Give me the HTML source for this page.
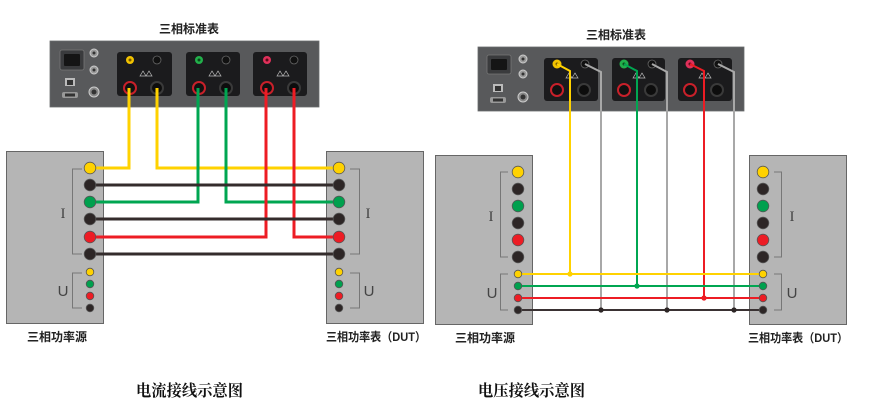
<!DOCTYPE html>
<html><head><meta charset="utf-8"><style>
html,body{margin:0;padding:0;background:#fff;}
svg{display:block;}
.t{font-family:"Liberation Sans","Noto Sans CJK SC",sans-serif;font-weight:bold;font-size:12px;fill:#222;}
.cap{font-family:"Liberation Serif","Noto Serif CJK SC",serif;font-weight:bold;font-size:16px;fill:#111;}
.lb{font-family:"Liberation Serif","Noto Serif CJK SC",serif;font-size:15px;fill:#444;}
.lu{font-family:"Liberation Sans",sans-serif;font-size:15px;fill:#444;}
</style></head><body>
<svg width="879" height="416" viewBox="0 0 879 416" xmlns="http://www.w3.org/2000/svg">
<rect width="879" height="416" fill="#fff"/>

<!-- ================= LEFT DIAGRAM ================= -->
<text class="t" x="189" y="33" text-anchor="middle">三相标准表</text>
<!-- device -->
<rect x="50" y="41" width="269" height="66" fill="#58595b" stroke="#6a6b6d" stroke-width="0.8"/>
<!-- power socket -->
<rect x="60" y="50" width="24" height="20" rx="2" fill="#3a3b3d" stroke="#777" stroke-width="0.8"/>
<rect x="64" y="54" width="16" height="12" rx="1" fill="#151515"/>
<!-- BNC -->
<circle cx="94" cy="53" r="4" fill="#9a9a9a" stroke="#ccc" stroke-width="1"/><circle cx="94" cy="53" r="1.5" fill="#333"/>
<circle cx="94" cy="70" r="4" fill="#9a9a9a" stroke="#ccc" stroke-width="1"/><circle cx="94" cy="70" r="1.5" fill="#333"/>
<circle cx="94" cy="92" r="5" fill="#888" stroke="#ccc" stroke-width="1"/><circle cx="94" cy="92" r="2.5" fill="#333"/>
<!-- ethernet + db9 -->
<rect x="65" y="78" width="10" height="8" fill="#bbb"/><rect x="67" y="80" width="6" height="5" fill="#333"/>
<rect x="62" y="92" width="16" height="6" rx="2" fill="#999"/><rect x="65" y="93.5" width="10" height="3" fill="#333"/>
<!-- modules -->
<rect x="117" y="52" width="55" height="44" rx="3" fill="#1b1b1d"/>
<rect x="186" y="52" width="54" height="44" rx="3" fill="#1b1b1d"/>
<rect x="253" y="52" width="54" height="44" rx="3" fill="#1b1b1d"/>
<!-- module terminals -->
<g>
<circle cx="130" cy="60" r="4" fill="#f2c300"/><circle cx="130" cy="60" r="1.5" fill="#7a5a00"/>
<circle cx="157" cy="60" r="4" fill="#111" stroke="#666" stroke-width="0.8"/>
<circle cx="130" cy="88" r="7" fill="#c8202a"/><circle cx="130" cy="88" r="5" fill="#111"/>
<circle cx="157" cy="88" r="7" fill="#3a3a3a"/><circle cx="157" cy="88" r="5" fill="#0d0d0d"/>
<path d="M140 76 l3 -5 l3 5 z M146 76 l3 -5 l3 5 z" fill="none" stroke="#bbb" stroke-width="0.7"/>

<circle cx="199" cy="60" r="4" fill="#22b04b"/><circle cx="199" cy="60" r="1.5" fill="#0a4a1a"/>
<circle cx="226" cy="60" r="4" fill="#111" stroke="#666" stroke-width="0.8"/>
<circle cx="199" cy="88" r="7" fill="#c8202a"/><circle cx="199" cy="88" r="5" fill="#111"/>
<circle cx="226" cy="88" r="7" fill="#3a3a3a"/><circle cx="226" cy="88" r="5" fill="#0d0d0d"/>
<path d="M209 76 l3 -5 l3 5 z M215 76 l3 -5 l3 5 z" fill="none" stroke="#bbb" stroke-width="0.7"/>

<circle cx="267" cy="60" r="4" fill="#e0305a"/><circle cx="267" cy="60" r="1.5" fill="#5a0a1a"/>
<circle cx="294" cy="60" r="4" fill="#111" stroke="#666" stroke-width="0.8"/>
<circle cx="267" cy="88" r="7" fill="#c8202a"/><circle cx="267" cy="88" r="5" fill="#111"/>
<circle cx="294" cy="88" r="7" fill="#3a3a3a"/><circle cx="294" cy="88" r="5" fill="#0d0d0d"/>
<path d="M277 76 l3 -5 l3 5 z M283 76 l3 -5 l3 5 z" fill="none" stroke="#bbb" stroke-width="0.7"/>
</g>

<!-- boxes -->
<rect x="6.5" y="151.5" width="97" height="172" fill="#b5b5b5" stroke="#666" stroke-width="1"/>
<rect x="326.5" y="151.5" width="97" height="172" fill="#b5b5b5" stroke="#666" stroke-width="1"/>
<!-- brackets -->
<path d="M82 169 H72.5 V254 H82 M82 273 H72.5 V308 H82" fill="none" stroke="#777" stroke-width="1"/>
<path d="M350 169 H359.5 V254 H350 M350 273 H359.5 V308 H350" fill="none" stroke="#777" stroke-width="1"/>
<text class="lb" x="63" y="218" text-anchor="middle">I</text>
<text class="lu" x="63" y="296" text-anchor="middle">U</text>
<text class="lb" x="368" y="218" text-anchor="middle">I</text>
<text class="lu" x="369" y="296" text-anchor="middle">U</text>

<!-- wires -->
<g fill="none" stroke-width="3" stroke-linejoin="miter">
<path d="M90 168 H129 V88" stroke="#ffd200"/>
<path d="M339 168 H157 V88" stroke="#ffd200"/>
<path d="M90 202 H198 V88" stroke="#00a651"/>
<path d="M339 202 H226 V88" stroke="#00a651"/>
<path d="M90 237 H266 V88" stroke="#ed1c24"/>
<path d="M339 237 H294 V88" stroke="#ed1c24"/>
<path d="M90 185 H339 M90 219 H339 M90 254 H339" stroke="#342c2c"/>
</g>
<!-- terminals -->
<g stroke="#555" stroke-width="0.8">
<circle cx="90" cy="168" r="5.8" fill="#ffd200"/><circle cx="90" cy="185" r="5.8" fill="#2d2626"/>
<circle cx="90" cy="202" r="5.8" fill="#00a04e"/><circle cx="90" cy="219" r="5.8" fill="#2d2626"/>
<circle cx="90" cy="237" r="5.8" fill="#ed1c24"/><circle cx="90" cy="254" r="5.8" fill="#2d2626"/>
<circle cx="90" cy="272" r="3.8" fill="#ffd200"/><circle cx="90" cy="284" r="3.8" fill="#00a04e"/>
<circle cx="90" cy="296" r="3.8" fill="#ed1c24"/><circle cx="90" cy="308" r="3.8" fill="#2d2626"/>
<circle cx="339" cy="168" r="5.8" fill="#ffd200"/><circle cx="339" cy="185" r="5.8" fill="#2d2626"/>
<circle cx="339" cy="202" r="5.8" fill="#00a04e"/><circle cx="339" cy="219" r="5.8" fill="#2d2626"/>
<circle cx="339" cy="237" r="5.8" fill="#ed1c24"/><circle cx="339" cy="254" r="5.8" fill="#2d2626"/>
<circle cx="339" cy="272" r="3.8" fill="#ffd200"/><circle cx="339" cy="284" r="3.8" fill="#00a04e"/>
<circle cx="339" cy="296" r="3.8" fill="#ed1c24"/><circle cx="339" cy="308" r="3.8" fill="#2d2626"/>
</g>
<text class="t" x="27" y="341">三相功率源</text>
<text class="t" x="326" y="341" textLength="100" lengthAdjust="spacingAndGlyphs">三相功率表（DUT）</text>
<text class="cap" x="136" y="396" textLength="107" lengthAdjust="spacingAndGlyphs">电流接线示意图</text>

<!-- ================= RIGHT DIAGRAM ================= -->
<text class="t" x="616" y="39" text-anchor="middle">三相标准表</text>
<rect x="478" y="47" width="266" height="64" fill="#58595b" stroke="#6a6b6d" stroke-width="0.8"/>
<rect x="487" y="55" width="24" height="19" rx="2" fill="#3a3b3d" stroke="#777" stroke-width="0.8"/>
<rect x="491" y="59" width="16" height="11" rx="1" fill="#151515"/>
<circle cx="523" cy="59" r="4" fill="#9a9a9a" stroke="#ccc" stroke-width="1"/><circle cx="523" cy="59" r="1.5" fill="#333"/>
<circle cx="523" cy="74" r="4" fill="#9a9a9a" stroke="#ccc" stroke-width="1"/><circle cx="523" cy="74" r="1.5" fill="#333"/>
<circle cx="523" cy="97" r="5" fill="#888" stroke="#ccc" stroke-width="1"/><circle cx="523" cy="97" r="2.5" fill="#333"/>
<rect x="493" y="84" width="10" height="8" fill="#bbb"/><rect x="495" y="86" width="6" height="5" fill="#333"/>
<rect x="490" y="97" width="16" height="6" rx="2" fill="#999"/><rect x="493" y="98.5" width="10" height="3" fill="#333"/>
<rect x="544" y="58" width="54" height="43" rx="3" fill="#1b1b1d"/>
<rect x="612" y="58" width="53" height="43" rx="3" fill="#1b1b1d"/>
<rect x="678" y="58" width="54" height="43" rx="3" fill="#1b1b1d"/>
<g>
<circle cx="557" cy="64" r="4.5" fill="#f2c300"/><circle cx="557" cy="64" r="1.5" fill="#7a5a00"/>
<circle cx="585" cy="64" r="4" fill="#111" stroke="#666" stroke-width="0.8"/>
<circle cx="557" cy="90" r="7" fill="#c8202a"/><circle cx="557" cy="90" r="5" fill="#111"/>
<circle cx="584" cy="90" r="7" fill="#3a3a3a"/><circle cx="584" cy="90" r="5" fill="#0d0d0d"/>
<path d="M566 78 l3 -5 l3 5 z M572 78 l3 -5 l3 5 z" fill="none" stroke="#bbb" stroke-width="0.7"/>

<circle cx="624" cy="64" r="4.5" fill="#22b04b"/><circle cx="624" cy="64" r="1.5" fill="#0a4a1a"/>
<circle cx="652" cy="64" r="4" fill="#111" stroke="#666" stroke-width="0.8"/>
<circle cx="624" cy="90" r="7" fill="#c8202a"/><circle cx="624" cy="90" r="5" fill="#111"/>
<circle cx="651" cy="90" r="7" fill="#3a3a3a"/><circle cx="651" cy="90" r="5" fill="#0d0d0d"/>
<path d="M633 78 l3 -5 l3 5 z M639 78 l3 -5 l3 5 z" fill="none" stroke="#bbb" stroke-width="0.7"/>

<circle cx="690" cy="64" r="4.5" fill="#e0305a"/><circle cx="690" cy="64" r="1.5" fill="#5a0a1a"/>
<circle cx="718" cy="64" r="4" fill="#111" stroke="#666" stroke-width="0.8"/>
<circle cx="690" cy="90" r="7" fill="#c8202a"/><circle cx="690" cy="90" r="5" fill="#111"/>
<circle cx="717" cy="90" r="7" fill="#3a3a3a"/><circle cx="717" cy="90" r="5" fill="#0d0d0d"/>
<path d="M699 78 l3 -5 l3 5 z M705 78 l3 -5 l3 5 z" fill="none" stroke="#bbb" stroke-width="0.7"/>
</g>

<rect x="435.5" y="155.5" width="97" height="169" fill="#b5b5b5" stroke="#666" stroke-width="1"/>
<rect x="749.5" y="155.5" width="97" height="169" fill="#b5b5b5" stroke="#666" stroke-width="1"/>
<path d="M508 172 H500.5 V257 H508 M508 274 H500.5 V310 H508" fill="none" stroke="#777" stroke-width="1"/>
<path d="M774 172 H781.5 V257 H774 M774 274 H781.5 V310 H774" fill="none" stroke="#777" stroke-width="1"/>
<text class="lb" x="491" y="221" text-anchor="middle">I</text>
<text class="lu" x="492" y="298" text-anchor="middle">U</text>
<text class="lb" x="792" y="221" text-anchor="middle">I</text>
<text class="lu" x="792" y="298" text-anchor="middle">U</text>

<g fill="none" stroke-width="2">
<path d="M557 64 L570 71 V274" stroke="#ffd200"/>
<path d="M585 64 L601 72 V310" stroke="#a8a8a8"/>
<path d="M624 64 L637 71 V286" stroke="#00a651"/>
<path d="M652 64 L667 72 V310" stroke="#a8a8a8"/>
<path d="M690 64 L704 71 V298" stroke="#ed1c24"/>
<path d="M718 64 L734 72 V310" stroke="#a8a8a8"/>
<path d="M518 274 H763" stroke="#ffd200"/>
<path d="M518 286 H763" stroke="#00a651"/>
<path d="M518 298 H763" stroke="#ed1c24"/>
<path d="M518 310 H763" stroke="#3a3233"/>
</g>
<circle cx="570" cy="274" r="2.6" fill="#ffd200"/>
<circle cx="637" cy="286" r="2.6" fill="#00a651"/>
<circle cx="704" cy="298" r="2.6" fill="#ed1c24"/>
<circle cx="601" cy="310" r="2.6" fill="#2d2626"/>
<circle cx="667" cy="310" r="2.6" fill="#2d2626"/>
<circle cx="734" cy="310" r="2.6" fill="#2d2626"/>

<g stroke="#555" stroke-width="0.8">
<circle cx="518" cy="172" r="5.8" fill="#ffd200"/><circle cx="518" cy="189" r="5.8" fill="#2d2626"/>
<circle cx="518" cy="206" r="5.8" fill="#00a04e"/><circle cx="518" cy="223" r="5.8" fill="#2d2626"/>
<circle cx="518" cy="240" r="5.8" fill="#ed1c24"/><circle cx="518" cy="257" r="5.8" fill="#2d2626"/>
<circle cx="518" cy="274" r="3.8" fill="#ffd200"/><circle cx="518" cy="286" r="3.8" fill="#00a04e"/>
<circle cx="518" cy="298" r="3.8" fill="#ed1c24"/><circle cx="518" cy="310" r="3.8" fill="#2d2626"/>
<circle cx="763" cy="172" r="5.8" fill="#ffd200"/><circle cx="763" cy="189" r="5.8" fill="#2d2626"/>
<circle cx="763" cy="206" r="5.8" fill="#00a04e"/><circle cx="763" cy="223" r="5.8" fill="#2d2626"/>
<circle cx="763" cy="240" r="5.8" fill="#ed1c24"/><circle cx="763" cy="257" r="5.8" fill="#2d2626"/>
<circle cx="763" cy="274" r="3.8" fill="#ffd200"/><circle cx="763" cy="286" r="3.8" fill="#00a04e"/>
<circle cx="763" cy="298" r="3.8" fill="#ed1c24"/><circle cx="763" cy="310" r="3.8" fill="#2d2626"/>
</g>
<text class="t" x="455" y="342">三相功率源</text>
<text class="t" x="748" y="342" textLength="100" lengthAdjust="spacingAndGlyphs">三相功率表（DUT）</text>
<text class="cap" x="478" y="396" textLength="107" lengthAdjust="spacingAndGlyphs">电压接线示意图</text>
</svg>
</body></html>
